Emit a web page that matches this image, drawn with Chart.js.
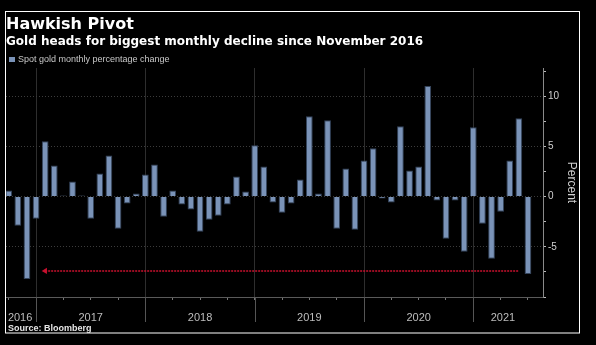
<!DOCTYPE html>
<html>
<head>
<meta charset="utf-8">
<script src="https://cdn.jsdelivr.net/npm/chart.js@4.4.1/dist/chart.umd.min.js"></script>
<style>
  html, body { margin: 0; padding: 0; background: #000; }
  #wrap { width: 596px; height: 345px; }
</style>
</head>
<body>
<div id="wrap"><canvas id="gold-chart" width="596" height="345"></canvas></div>
<script>
// monthly spot gold % change, Sep 2016 .. Jun 2021
const months = [
  '2016-09', '2016-10', '2016-11', '2016-12',
  '2017-01', '2017-02', '2017-03', '2017-04', '2017-05', '2017-06', '2017-07', '2017-08', '2017-09', '2017-10', '2017-11', '2017-12',
  '2018-01', '2018-02', '2018-03', '2018-04', '2018-05', '2018-06', '2018-07', '2018-08', '2018-09', '2018-10', '2018-11', '2018-12',
  '2019-01', '2019-02', '2019-03', '2019-04', '2019-05', '2019-06', '2019-07', '2019-08', '2019-09', '2019-10', '2019-11', '2019-12',
  '2020-01', '2020-02', '2020-03', '2020-04', '2020-05', '2020-06', '2020-07', '2020-08', '2020-09', '2020-10', '2020-11', '2020-12',
  '2021-01', '2021-02', '2021-03', '2021-04', '2021-05', '2021-06'
];
const goldChange = [
  0.6, -2.9, -8.2, -2.2,
  5.5, 3.1, 0.1, 1.5, 0.1, -2.2, 2.3, 4.1, -3.2, -0.7, 0.3, 2.2,
  3.2, -2.0, 0.6, -0.8, -1.3, -3.5, -2.3, -1.9, -0.8, 2.0, 0.5, 5.1,
  3.0, -0.6, -1.6, -0.7, 1.7, 8.0, 0.3, 7.6, -3.2, 2.8, -3.3, 3.6,
  4.8, -0.2, -0.6, 7.0, 2.6, 3.0, 11.0, -0.4, -4.2, -0.4, -5.5, 6.9,
  -2.7, -6.2, -1.5, 3.6, 7.8, -7.7
];
const years = ['2016', '2017', '2018', '2019', '2020', '2021'];
const yTicks = [-10, -7.5, -5, -2.5, 0, 2.5, 5, 7.5, 10, 12.5];
// quarter ticks, in months after Dec 2016
const quarterTicks = [-3, 0, 3, 6, 9, 12, 15, 18, 21, 24, 27, 30, 33, 36, 39, 42, 45, 48, 51, 54];
// red reference arrow (Jan 2017 .. May 2021)
const arrowX = [1, 53];
const arrowLevel = -7.4;

const barColor = '#7a93b8';

// bars sit on month end, so Dec 2016 lands on the 2017 boundary
function monthIndex(m) {
  const [y, mo] = m.split('-').map(Number);
  return (y - 2016) * 12 + mo - 12;
}

const frame = {
  id: 'frame',
  beforeDraw(chart) {
    const ctx = chart.ctx;
    ctx.save();
    ctx.fillStyle = '#000';
    ctx.fillRect(0, 0, chart.width, chart.height);
    ctx.restore();
  },
  afterDraw(chart) {
    const ctx = chart.ctx;
    const x = chart.scales.x;
    const area = chart.chartArea;
    ctx.save();

    ctx.strokeStyle = '#fff';
    ctx.lineWidth = 1;
    ctx.strokeRect(5.5, 11.5, 574, 321.5);

    ctx.fillStyle = '#fff';
    ctx.textBaseline = 'alphabetic';
    ctx.textAlign = 'left';
    ctx.font = 'bold 16px "DejaVu Sans"';
    ctx.fillText('Hawkish Pivot', 6, 28.5);
    ctx.font = 'bold 12px "DejaVu Sans"';
    ctx.fillText('Gold heads for biggest monthly decline since November 2016', 6, 45);

    ctx.fillStyle = barColor;
    ctx.fillRect(9, 57, 6, 5);
    ctx.fillStyle = '#c8c8c8';
    ctx.font = '9px "Liberation Sans"';
    ctx.fillText(chart.data.datasets[0].label, 18, 62);

    ctx.fillStyle = '#e6e6e6';
    ctx.font = 'bold 9px "Liberation Sans"';
    ctx.fillText('Source: Bloomberg', 8, 331);

    // year separators below the axis + year labels
    ctx.strokeStyle = '#555';
    ctx.beginPath();
    years.forEach((yr, i) => {
      const v = i * 12 - 12;
      if (v >= x.min && v <= x.max) {
        const px = Math.round(x.getPixelForValue(v)) + 0.5;
        ctx.moveTo(px, area.bottom);
        ctx.lineTo(px, 322);
      }
    });
    ctx.stroke();

    ctx.fillStyle = '#bdbdbd';
    ctx.font = '11px "Liberation Sans"';
    ctx.textAlign = 'center';
    const first = monthIndex(months[0]) - 0.5;
    const last = monthIndex(months[months.length - 1]) + 0.5;
    years.forEach((yr, i) => {
      const a = Math.max(i * 12 - 12, first);
      const b = Math.min(i * 12, last);
      ctx.fillText(yr, x.getPixelForValue((a + b) / 2), 321);
    });
    ctx.restore();
  }
};

new Chart(document.getElementById('gold-chart'), {
  type: 'bar',
  data: {
    datasets: [
      {
        label: 'Spot gold monthly percentage change',
        data: months.map((m, i) => ({ x: monthIndex(m), y: goldChange[i] })),
        backgroundColor: barColor,
        borderColor: '#34445c',
        borderWidth: 1,
        barPercentage: 0.74,
        categoryPercentage: 1,
        order: 2
      },
      {
        type: 'line',
        label: 'Nov 2016 level',
        data: arrowX.map(v => ({ x: v, y: arrowLevel })),
        borderColor: '#c8102e',
        borderWidth: 1.5,
        borderDash: [2, 1],
        pointStyle: 'triangle',
        rotation: -90,
        pointRadius: [3.5, 0],
        pointBackgroundColor: '#c8102e',
        pointBorderWidth: 0,
        order: 1
      }
    ]
  },
  options: {
    responsive: false,
    devicePixelRatio: 1,
    animation: false,
    layout: { padding: { left: 6, top: 68, right: 0, bottom: 0 } },
    plugins: {
      legend: { display: false },
      tooltip: { enabled: false },
      title: { display: false }
    },
    scales: {
      x: {
        type: 'linear',
        min: -3.3,
        max: 55.65,
        offset: false,
        afterBuildTicks: s => { s.ticks = quarterTicks.map(v => ({ value: v })); },
        afterFit: s => { s.height = 48; },
        ticks: { display: false },
        grid: {
          offset: false,
          color: c => (c.tick && c.tick.value % 12 === 0) ? '#2e2e2e' : 'transparent',
          tickColor: '#777',
          tickLength: 3
        },
        border: { color: '#5a5a5a' }
      },
      y: {
        position: 'right',
        min: -10,
        max: 12.8,
        afterBuildTicks: s => { s.ticks = yTicks.map(v => ({ value: v })); },
        afterFit: s => { s.width = 53; },
        ticks: {
          color: '#cfcfcf',
          font: { family: 'Liberation Sans', size: 10 },
          padding: 2,
          callback: v => (v % 5 === 0 && v > -10) ? String(v) : ''
        },
        grid: {
          color: c => (c.tick && c.tick.value % 5 === 0 && c.tick.value > -10) ? '#3c3c3c' : 'transparent',
          tickColor: '#bbb',
          tickLength: 3
        },
        border: { color: '#8a8a8a', dash: [1, 2] },
        title: {
          display: true,
          text: 'Percent',
          color: '#cfcfcf',
          font: { family: 'Liberation Sans', size: 12 },
          padding: { top: 17, bottom: 0 }
        }
      }
    }
  },
  plugins: [frame]
});
</script>
</body>
</html>
